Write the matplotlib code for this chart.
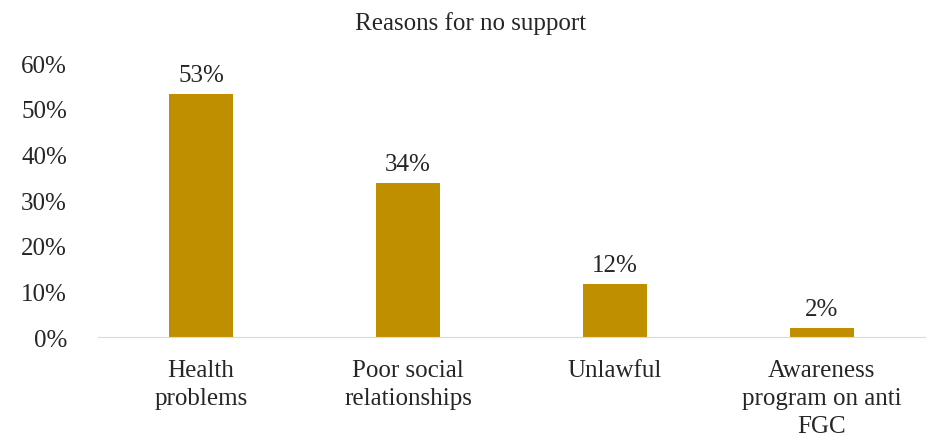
import matplotlib.pyplot as plt
from matplotlib.ticker import PercentFormatter

plt.rcParams['font.family'] = ['Liberation Serif', 'DejaVu Serif']

categories = ['Health\nproblems', 'Poor social\nrelationships', 'Unlawful',
              'Awareness\nprogram on anti\nFGC']
values = [0.532, 0.337, 0.116, 0.019]
labels = ['53%', '34%', '12%', '2%']
color = '#BF8F00'

fig = plt.figure(figsize=(9.29, 4.39), dpi=100)
ax = fig.add_axes([0.105, 0.23, 0.891, 0.624])

x = range(len(categories))
bars = ax.bar(x, values, width=0.31, color=color)
for b, lab in zip(bars, labels):
    ax.annotate(lab, (b.get_x() + b.get_width() / 2, b.get_height()),
                xytext=(0, 6), textcoords='offset points',
                ha='center', va='bottom', fontsize=18, color='#262626')

ax.set_xlim(-0.5, 3.5)
ax.set_ylim(0, 0.6)
ax.set_yticks([0, 0.1, 0.2, 0.3, 0.4, 0.5, 0.6])
ax.yaxis.set_major_formatter(PercentFormatter(1.0, decimals=0))
ax.set_xticks(list(x))
ax.set_xticklabels(categories, fontsize=18, color='#262626', linespacing=1.35)
ax.tick_params(axis='y', labelsize=18, labelcolor='#262626', length=0, pad=22)
ax.tick_params(axis='x', length=0, pad=16)
for s in ['top', 'right', 'left']:
    ax.spines[s].set_visible(False)
ax.spines['bottom'].set_color('#D9D9D9')

fig.text(0.507, 0.947, 'Reasons for no support', ha='center', va='center',
         fontsize=18, color='#262626')

fig.savefig('out.png', dpi=100)
